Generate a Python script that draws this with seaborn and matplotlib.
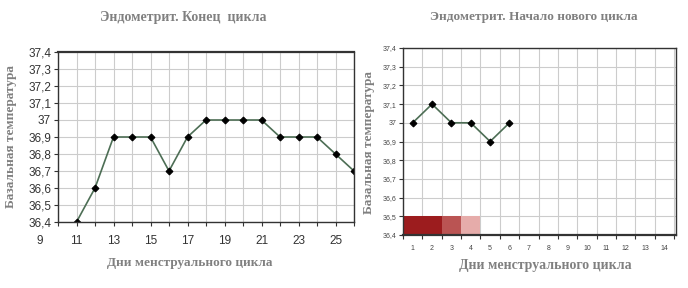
import matplotlib
matplotlib.use("Agg")
import matplotlib.pyplot as plt
import seaborn as sns
import pandas as pd
import numpy as np

# ---- data ----
days_end = [11, 12, 13, 14, 15, 16, 17, 18, 19, 20, 21, 22, 23, 24, 25, 26]
temp_end = [36.4, 36.6, 36.9, 36.9, 36.9, 36.7, 36.9, 37.0, 37.0, 37.0, 37.0, 36.9, 36.9, 36.9, 36.8, 36.7]
days_new = [1, 2, 3, 4, 5, 6]
temp_new = [37.0, 37.1, 37.0, 37.0, 36.9, 37.0]
mens_days = [1, 2, 3, 4]
mens_level = [3, 3, 2, 1]
left_xticks = [9, 11, 13, 15, 17, 19, 21, 23, 25]
yticks = [36.4, 36.5, 36.6, 36.7, 36.8, 36.9, 37.0, 37.1, 37.2, 37.3, 37.4]
right_days = list(range(1, 15))

title_left = "Эндометрит. Конец  цикла"
title_right = "Эндометрит. Начало нового цикла"
xlabel = "Дни менструального цикла"
ylabel = "Базальная температура"

def fmt(v):
    s = f"{v:.1f}".replace(".", ",")
    return s[:-2] if s.endswith(",0") else s

sns.set_theme(style="white")
plt.rcParams['font.family'] = ['Liberation Sans', 'DejaVu Sans']

fig = plt.figure(figsize=(6.88, 2.88), dpi=100)
fig.patch.set_facecolor("white")

grid_c = "#cccccc"
spine_c = "#333333"
line_c = "#4d6e55"
lab_c = "#808080"
serif = ['Liberation Serif', 'DejaVu Serif']

# ---- left chart ----
axL = fig.add_axes([58/688, 1-222/288, 296/688, 170/288])
dfL = pd.DataFrame({"day": days_end, "temp": temp_end})
sns.lineplot(data=dfL, x="day", y="temp", ax=axL, color=line_c, linewidth=1.2,
             marker="D", markersize=3.5, markerfacecolor="black", markeredgecolor="black")
axL.set_xlim(10, 26)
axL.set_ylim(36.4, 37.4)
axL.set_xticks(range(10, 27), minor=True)
axL.set_xticks([t for t in left_xticks if t >= 10])
axL.set_xticklabels([str(t) for t in left_xticks if t >= 10])
for t in left_xticks:
    if t < 10:
        axL.text(t, -0.075, str(t), transform=axL.get_xaxis_transform(), ha="center", va="top",
                 fontsize=8.5, color="#333333", clip_on=False)
axL.set_yticks(yticks)
axL.set_yticklabels([fmt(v) for v in yticks])
axL.grid(True, which="both", color=grid_c, linewidth=0.8)
axL.tick_params(axis="both", which="both", direction="out", length=3, width=0.8, color=spine_c,
                labelsize=8.5, labelcolor="#333333", pad=2, bottom=True, left=True)
axL.tick_params(axis="x", pad=6)
for s in axL.spines.values():
    s.set_color(spine_c)
    s.set_linewidth(1.0)
axL.spines["top"].set_linewidth(1.6)
axL.set_xlabel("")
axL.set_ylabel("")
fig.text(183/688, 1-18/288, title_left, ha="center", va="center", fontsize=10,
         fontweight="bold", color=lab_c, family=serif)
fig.text(190/688, 1-263/288, xlabel, ha="center", va="center", fontsize=9.5,
         fontweight="bold", color=lab_c, family=serif)
fig.text(11/688, 1-137/288, ylabel, ha="center", va="center", rotation=90, fontsize=9.5,
         fontweight="bold", color=lab_c, family=serif)

# ---- right chart ----
axR = fig.add_axes([403/688, 1-235/288, 273/688, 187/288])
shade = {3: "#9c1c1e", 2: "#ba5453", 1: "#e6acaa"}
axR.bar(mens_days, [0.1]*len(mens_days), bottom=36.4, width=1.0,
        color=[shade[l] for l in mens_level], edgecolor="none", zorder=2)
dfR = pd.DataFrame({"day": days_new, "temp": temp_new})
sns.lineplot(data=dfR, x="day", y="temp", ax=axR, color=line_c, linewidth=1.2,
             marker="D", markersize=3.5, markerfacecolor="black", markeredgecolor="black", zorder=3)
axR.set_xlim(0.5, 14.6)
axR.set_ylim(36.4, 37.4)
axR.set_xticks(np.arange(0.5, 15, 1.0))
axR.set_xticklabels([])
axR.set_xticks(right_days, minor=True)
axR.set_xticklabels([str(d) for d in right_days], minor=True)
axR.set_yticks(yticks)
axR.set_yticklabels([fmt(v) for v in yticks])
axR.grid(True, which="major", color=grid_c, linewidth=0.8)
axR.tick_params(axis="x", which="major", direction="out", length=3, width=0.8, color=spine_c, bottom=True)
axR.tick_params(axis="x", which="minor", length=0, labelsize=5, labelcolor="#444444", pad=7)
axR.tick_params(axis="y", direction="out", length=3, width=0.8, color=spine_c, left=True,
                labelsize=5, labelcolor="#444444", pad=2)
for s in axR.spines.values():
    s.set_color(spine_c)
    s.set_linewidth(1.0)
axR.spines["bottom"].set_linewidth(1.6)
axR.set_xlabel("")
axR.set_ylabel("")
fig.text(534/688, 1-17/288, title_right, ha="center", va="center", fontsize=9.5,
         fontweight="bold", color=lab_c, family=serif)
fig.text(545/688, 1-266/288, xlabel, ha="center", va="center", fontsize=10,
         fontweight="bold", color=lab_c, family=serif)
fig.text(369/688, 1-143/288, ylabel, ha="center", va="center", rotation=90, fontsize=9.5,
         fontweight="bold", color=lab_c, family=serif)

fig.savefig("out.png", dpi=100, facecolor="white")
